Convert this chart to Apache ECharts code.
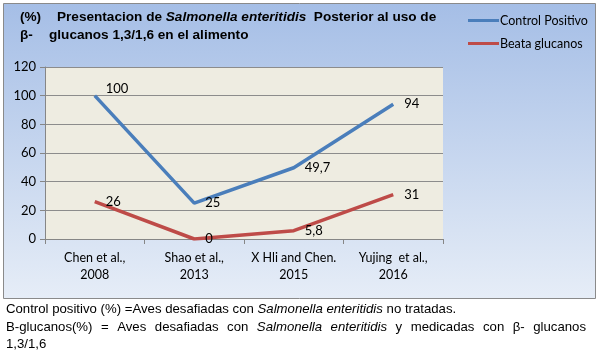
<!DOCTYPE html>
<html>
<head>
<meta charset="utf-8">
<script src="https://cdn.jsdelivr.net/npm/echarts@6/dist/echarts.min.js"></script>
<style>
  body { margin: 0; background: #fff; }
  #chart { width: 599px; height: 354px; }
</style>
</head>
<body>
<div id="chart"></div>
<script>
const categories = ['Chen et al.,\n2008', 'Shao et al.,\n2013', 'X Hli and Chen.\n2015', 'Yujing  et al.,\n2016']
const controlPositivo = [100, 25, 49.7, 94]
const beataGlucanos = [26, 0, 5.8, 31]
const yTicks = { min: 0, max: 120, interval: 20 }

const chart = echarts.init(document.getElementById('chart'))

const fmt = p => String(p.value).replace('.', ',')
const lblFont = 'Lato, "Open Sans", sans-serif'
const footFont = '13.2px Arial, "Liberation Sans"'
const footItalic = 'italic 13.2px Arial, "Liberation Sans"'

// second footer line is justified in the original -> spread words between two edges
const footWords = [
  ['B-glucanos(%)'], ['='], ['Aves'], ['desafiadas'], ['con'],
  ['Salmonella', true], ['enteritidis', true], ['y'], ['medicadas'],
  ['con'], ['β-'], ['glucanos']
]
const ctx = document.createElement('canvas').getContext('2d')
const widths = footWords.map(([t, it]) => {
  ctx.font = it ? footItalic : footFont
  return ctx.measureText(t).width
})
const x0 = 6
const x1 = 586
const gap = (x1 - x0 - widths.reduce((a, b) => a + b, 0)) / (footWords.length - 1)
let cx = x0
const footer = footWords.map(([t, it], i) => {
  const el = { type: 'text', left: cx, top: 321, style: { text: t, font: it ? footItalic : footFont, fill: '#000' } }
  cx += widths[i] + gap
  return el
})

const labelBase = { show: true, position: 'right', distance: 11, formatter: fmt, fontFamily: lblFont, fontSize: 13, color: '#000' }
// the "100" label sits a little above its point
const controlData = controlPositivo.map((v, i) => i === 0 ? { value: v, label: { offset: [0, -7] } } : v)

const option = {
  animation: false,
  graphic: [
    {
      type: 'rect', left: 3, top: 3, z: -10,
      shape: { width: 592, height: 295 },
      style: {
        fill: new echarts.graphic.LinearGradient(0, 0, 0, 1, [
          { offset: 0, color: '#a5bee6' },
          { offset: 1, color: '#e6edf7' }
        ]),
        stroke: '#8a8a8a', lineWidth: 1
      }
    },
    { type: 'text', left: 20, top: 10, style: { text: '(%)', font: 'bold 13.6px Arial, "Liberation Sans"', fill: '#000' } },
    {
      type: 'text', left: 57, top: 10,
      style: {
        text: 'Presentacion de {i|Salmonella enteritidis}  Posterior al uso de',
        font: 'bold 13.6px Arial, "Liberation Sans"', fill: '#000',
        rich: { i: { fontStyle: 'italic', fontWeight: 'bold', fontSize: 13.6, fontFamily: 'Arial, "Liberation Sans"' } }
      }
    },
    { type: 'text', left: 20, top: 28, style: { text: 'β-', font: 'bold 13.6px Arial, "Liberation Sans"', fill: '#000' } },
    { type: 'text', left: 49, top: 28, style: { text: 'glucanos 1,3/1,6 en el alimento', font: 'bold 13.6px Arial, "Liberation Sans"', fill: '#000' } },
    {
      type: 'text', left: 6, top: 303,
      style: {
        text: 'Control positivo (%) =Aves desafiadas con {i|Salmonella enteritidis} no tratadas.',
        font: footFont, fill: '#000',
        rich: { i: { fontStyle: 'italic', fontSize: 13.2, fontFamily: 'Arial, "Liberation Sans"' } }
      }
    },
    ...footer,
    { type: 'text', left: 6, top: 338, style: { text: '1,3/1,6', font: footFont, fill: '#000' } }
  ],
  legend: {
    orient: 'vertical',
    left: 463, top: 9,
    itemWidth: 31, itemHeight: 3, itemGap: 10,
    icon: 'rect',
    textStyle: { fontFamily: lblFont, fontSize: 12.5, color: '#000', padding: [0, 0, 0, -4] },
    data: ['Control Positivo', 'Beata glucanos']
  },
  grid: { left: 45, right: 156, top: 67, bottom: 115, show: true, backgroundColor: '#eeece1', borderWidth: 0 },
  xAxis: {
    type: 'category',
    data: categories,
    axisLine: { lineStyle: { color: '#868686' } },
    axisTick: { show: true, length: 5, lineStyle: { color: '#868686' } },
    axisLabel: { interval: 0, fontFamily: lblFont, fontSize: 12.5, color: '#000', lineHeight: 17, margin: 10 }
  },
  yAxis: {
    type: 'value',
    min: yTicks.min, max: yTicks.max, interval: yTicks.interval,
    axisLine: { show: true, lineStyle: { color: '#868686' } },
    axisTick: { show: true, length: 5, lineStyle: { color: '#868686' } },
    axisLabel: { fontFamily: lblFont, fontSize: 13, color: '#000', margin: 9 },
    splitLine: { lineStyle: { color: '#8c8c8c' } }
  },
  series: [
    {
      name: 'Control Positivo', type: 'line', data: controlData,
      symbol: 'circle', symbolSize: 0, color: '#4a7ebb',
      lineStyle: { width: 3.5, color: '#4a7ebb' },
      label: labelBase
    },
    {
      name: 'Beata glucanos', type: 'line', data: beataGlucanos,
      symbol: 'circle', symbolSize: 0, color: '#be4b48',
      lineStyle: { width: 3.5, color: '#be4b48' },
      label: labelBase
    }
  ]
}

chart.setOption(option)
</script>
</body>
</html>
